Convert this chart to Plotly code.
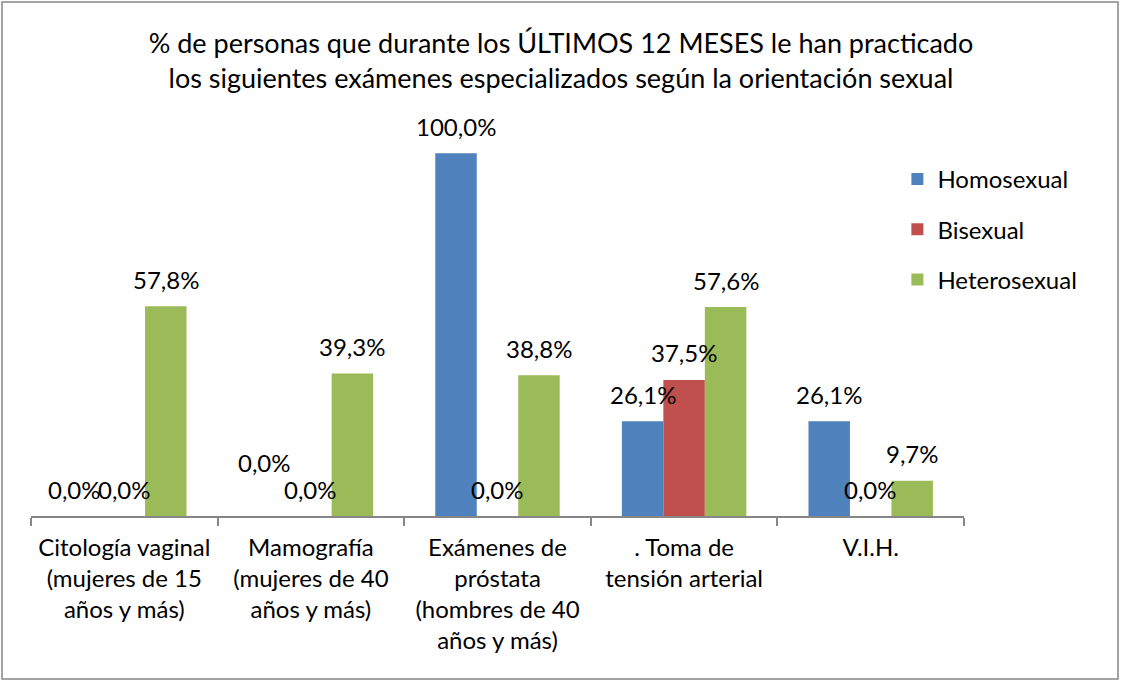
import plotly.graph_objects as go

categorias = [
    "Citología vaginal<br>(mujeres de 15<br>años y más)",
    "Mamografía<br>(mujeres de 40<br>años y más)",
    "Exámenes de<br>próstata<br>(hombres de 40<br>años y más)",
    ". Toma de<br>tensión arterial",
    "V.I.H.",
]
series = ["Homosexual", "Bisexual", "Heterosexual"]
homosexual = [0.0, 0.0, 100.0, 26.1, 26.1]
bisexual = [0.0, 0.0, 0.0, 37.5, 0.0]
heterosexual = [57.8, 39.3, 38.8, 57.6, 9.7]
valores = [homosexual, bisexual, heterosexual]
colores = ["#4F81BD", "#C0504D", "#9BBB59"]

# a few labels were moved by hand in the original (pixel nudges)
nudges = {(0, 0): (-8, 0), (0, 1): (-5, 27)}

FONT = "Lato"
SIZE = 24
bargap = 0.333

fig = go.Figure()
for k, (name, vals) in enumerate(zip(series, valores)):
    fig.add_trace(go.Bar(
        x=categorias, y=vals, name=name, legendgroup=name,
        marker=dict(color=colores[k], line=dict(width=0)),
    ))

ancho = (1 - bargap) / len(series)
for k, vals in enumerate(valores):
    for i, v in enumerate(vals):
        dx, dy = nudges.get((k, i), (0, 0))
        fig.add_annotation(
            x=i + (k - 1) * ancho, y=v, xref="x", yref="y",
            text=f"{v:.1f}%".replace(".", ","), showarrow=False,
            yanchor="middle", yshift=27 + dy, xshift=dx,
            font=dict(family=FONT, size=SIZE, color="black"),
        )

fig.update_layout(
    width=1122, height=682,
    paper_bgcolor="white", plot_bgcolor="white",
    barmode="group", bargap=bargap, bargroupgap=0,
    margin=dict(l=31, r=158, t=117, b=166),
    font=dict(family=FONT, size=SIZE, color="black"),
    title=dict(
        text="% de personas que durante los ÚLTIMOS 12 MESES le han practicado<br>"
             "los siguientes exámenes especializados según la orientación sexual",
        x=0.5, xref="container", xanchor="center",
        y=1 - 53 / 682, yref="container", yanchor="top",
        font=dict(family=FONT, size=27, color="black"),
    ),
    legend=dict(
        x=0.9286, y=0.90, xanchor="left", yanchor="top",
        font=dict(family=FONT, size=SIZE), tracegroupgap=16,
        itemwidth=30, bgcolor="rgba(0,0,0,0)",
    ),
    shapes=[dict(
        type="rect", xref="paper", yref="paper",
        x0=(2 - 31) / 933, x1=(1118 - 31) / 933,
        y0=(516 - 679) / 399, y1=(516 - 2) / 399,
        line=dict(color="#868686", width=1.5), fillcolor="rgba(0,0,0,0)",
        layer="below",
    )],
)
fig.update_xaxes(
    type="category", showline=True, linecolor="#868686", linewidth=1.5,
    ticks="outside", tickson="boundaries", ticklen=8, tickcolor="#868686",
    tickwidth=1.5, showgrid=False, tickfont=dict(family=FONT, size=SIZE),
    ticklabelstandoff=9,
)
fig.update_yaxes(
    range=[0, 110], visible=False, showgrid=False, zeroline=False,
)

fig.write_html(
    "out.html",
    config={"displayModeBar": False},
    post_script="document.body.style.margin='0';",
)
